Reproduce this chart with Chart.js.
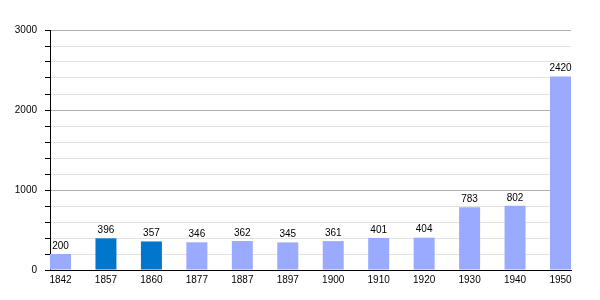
<!DOCTYPE html>
<html>
<head>
<meta charset="utf-8">
<script src="https://cdn.jsdelivr.net/npm/chart.js@4"></script>
<style>
  html, body { margin: 0; padding: 0; background: #fff; }
  #wrap { width: 600px; height: 300px; }
</style>
</head>
<body>
<div id="wrap"><canvas id="pop-chart"></canvas></div>
<script>
var years = ['1842', '1857', '1860', '1877', '1887', '1897', '1900', '1910', '1920', '1930', '1940', '1950'];
var population = [200, 396, 357, 346, 362, 345, 361, 401, 404, 783, 802, 2420];
var highlighted = [false, true, true, false, false, false, false, false, false, false, false, false];
var yLabels = [0, 1000, 2000, 3000];

var lightBlue = '#99aaff';
var darkBlue = '#0077cc';

// bars sit on a linear x axis so the first and last bar touch the plot edges
var points = population.map(function (v, i) { return { x: i, y: v }; });

var valueLabels = {
  id: 'valueLabels',
  afterDatasetsDraw: function (chart) {
    var ctx = chart.ctx;
    var meta = chart.getDatasetMeta(0);
    ctx.save();
    ctx.font = '10px "Liberation Sans", Arial, sans-serif';
    ctx.fillStyle = '#000';
    ctx.textAlign = 'center';
    ctx.textBaseline = 'bottom';
    meta.data.forEach(function (bar, i) {
      ctx.fillText(String(population[i]), bar.x, bar.y - 3);
    });
    ctx.restore();
  }
};

document.addEventListener('DOMContentLoaded', function () {
  var ctx = document.getElementById('pop-chart').getContext('2d');

  new Chart(ctx, {
    type: 'bar',
    data: {
      datasets: [
        {
          data: points,
          backgroundColor: highlighted.map(function (h) { return h ? darkBlue : lightBlue; }),
          borderWidth: 0,
          barPercentage: 0.462,
          categoryPercentage: 1
        }
      ]
    },
    plugins: [valueLabels],
    options: {
      responsive: true,
      maintainAspectRatio: false,
      animation: false,
      layout: { padding: { top: 30, right: 29, left: 0, bottom: 0 } },
      plugins: {
        legend: { display: false },
        tooltip: { enabled: false }
      },
      scales: {
        x: {
          type: 'linear',
          offset: false,
          min: -0.231,
          max: 11.231,
          afterBuildTicks: function (scale) {
            scale.ticks = years.map(function (y, i) { return { value: i }; });
          },
          afterFit: function (scale) { scale.height = 30; },
          grid: { display: false, drawTicks: false },
          border: { display: true, color: '#000', width: 1 },
          ticks: {
            autoSkip: false,
            maxRotation: 0,
            padding: 4,
            color: '#000',
            font: { family: '"Liberation Sans", Arial, sans-serif', size: 10 },
            callback: function (v) { return years[v]; }
          }
        },
        y: {
          min: 0,
          max: 3000,
          afterFit: function (scale) { scale.width = 50; },
          grid: {
            color: function (c) {
              if (c.tick.value === 0) return 'rgba(0,0,0,0)';
              return c.tick.value % 1000 === 0 ? '#b0b0b0' : '#e2e2e2';
            },
            tickColor: '#000',
            tickLength: 5
          },
          border: { display: true, color: '#000', width: 1 },
          ticks: {
            stepSize: 200,
            padding: 8,
            color: '#000',
            font: { family: '"Liberation Sans", Arial, sans-serif', size: 10 },
            callback: function (v) { return yLabels.indexOf(v) >= 0 ? String(v) : ''; }
          }
        }
      }
    }
  });
});
</script>
</body>
</html>
